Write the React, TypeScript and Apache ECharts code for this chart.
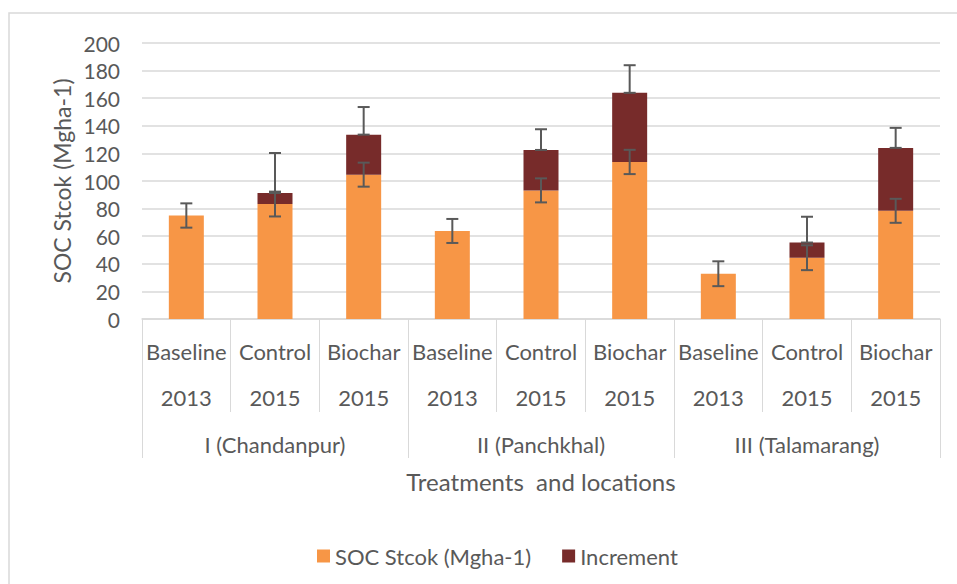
import React, { useEffect, useRef } from "react";
import * as echarts from "echarts";

const categories = [
  "Baseline\n2013", "Control\n2015", "Biochar\n2015",
  "Baseline\n2013", "Control\n2015", "Biochar\n2015",
  "Baseline\n2013", "Control\n2015", "Biochar\n2015",
];
const locations = ["I (Chandanpur)", "II (Panchkhal)", "III (Talamarang)"];
const socStock = [75, 83.3, 104.6, 63.8, 93.2, 113.8, 32.8, 44.4, 78.4];
const increment = [0, 8, 29, 0, 29.3, 50.1, 0, 11, 45.6];
const socErr = [8.8, 9, 8.7, 8.7, 8.7, 8.8, 9, 9, 8.7];
const incErr = [0, 29, 20, 0, 15, 20, 0, 18.7, 14.5];

const FONT = "Lato";
const TXT = "#595959";
const GRID_C = "#d9d9d9";

export default function App() {
  const ref = useRef<HTMLDivElement>(null);
  useEffect(() => {
    if (!ref.current) return;
    const chart = echarts.init(ref.current, undefined, { renderer: "svg" });
    const socErrData = socStock.map((v, i) => [i, v - socErr[i], v + socErr[i]]);
    const incErrData = socStock
      .map((v, i) => [i, v + increment[i], v + increment[i] + incErr[i]])
      .filter((d, i) => incErr[i] > 0);
    const renderErr = (params: any, api: any) => {
      const x = api.value(0);
      const lo = api.coord([x, api.value(1)]);
      const hi = api.coord([x, api.value(2)]);
      const hw = 6;
      const style = { stroke: "#595959", lineWidth: 2 };
      return {
        type: "group",
        children: [
          { type: "line", shape: { x1: lo[0], y1: lo[1], x2: hi[0], y2: hi[1] }, style },
          { type: "line", shape: { x1: lo[0] - hw, y1: lo[1], x2: lo[0] + hw, y2: lo[1] }, style },
          { type: "line", shape: { x1: hi[0] - hw, y1: hi[1], x2: hi[0] + hw, y2: hi[1] }, style },
        ],
      };
    };
    chart.setOption({
      animation: false,
      textStyle: { fontFamily: FONT, color: TXT },
      grid: { left: 142, right: 17, top: 43, bottom: 265, containLabel: false },
      legend: {
        data: ["SOC Stcok (Mgha-1)", "Increment"],
        left: 312,
        top: 540,
        icon: "rect",
        itemWidth: 13,
        itemHeight: 13,
        itemGap: 31,
        textStyle: { fontFamily: FONT, fontSize: 22, color: TXT },
      },
      xAxis: [
        {
          type: "category",
          data: categories,
          axisLine: { show: true, lineStyle: { color: GRID_C, width: 1.5 } },
          axisTick: { show: true, alignWithLabel: false, interval: 0, length: 93, lineStyle: { color: GRID_C } },
          axisLabel: {
            interval: 0,
            margin: 9,
            fontSize: 22,
            lineHeight: 46,
            color: TXT,
            fontFamily: FONT,
          },
        },
        {
          type: "category",
          data: locations,
          position: "bottom",
          axisLine: { show: false },
          axisTick: { show: true, interval: 0, length: 139, lineStyle: { color: GRID_C } },
          axisLabel: {
            interval: 0,
            margin: 113,
            fontSize: 22,
            lineHeight: 24,
            color: TXT,
            fontFamily: FONT,
          },
        },
      ],
      yAxis: {
        type: "value",
        min: 0,
        max: 200,
        interval: 20,
        axisLine: { show: false },
        axisTick: { show: false },
        splitLine: { lineStyle: { color: GRID_C, width: 1.5 } },
        axisLabel: { fontSize: 21, color: TXT, fontFamily: FONT, margin: 22 },
      },
      graphic: [
        {
          type: "rect",
          shape: { x: 9, y: 13, width: 1000, height: 620 },
          style: { fill: "none", stroke: GRID_C, lineWidth: 1.5 },
          silent: true,
        },
        {
          type: "text",
          x: 62,
          y: 181,
          rotation: Math.PI / 2,
          style: {
            text: "SOC Stcok (Mgha-1)",
            fontSize: 23,
            fontFamily: FONT,
            fill: TXT,
            align: "center",
            verticalAlign: "middle",
          },
        },
        {
          type: "text",
          x: 541,
          y: 481,
          style: {
            text: "Treatments  and locations",
            fontSize: 24,
            fontFamily: FONT,
            fill: TXT,
            align: "center",
            verticalAlign: "middle",
          },
        },
      ],
      series: [
        {
          name: "SOC Stcok (Mgha-1)",
          type: "bar",
          stack: "soc",
          data: socStock,
          barWidth: 35,
          itemStyle: { color: "#F79646" },
        },
        {
          name: "Increment",
          type: "bar",
          stack: "soc",
          data: increment,
          barWidth: 35,
          itemStyle: { color: "#772B2A" },
        },
        {
          name: "socErr",
          type: "custom",
          renderItem: renderErr,
          data: socErrData,
          encode: { x: 0, y: [1, 2] },
          z: 10,
        },
        {
          name: "incErr",
          type: "custom",
          renderItem: renderErr,
          data: incErrData,
          encode: { x: 0, y: [1, 2] },
          z: 11,
        },
      ],
    });
    return () => chart.dispose();
  }, []);
  return (
    <div
      ref={ref}
      style={{ position: "fixed", left: 0, top: 0, width: 957, height: 584, background: "#fff" }}
    />
  );
}
